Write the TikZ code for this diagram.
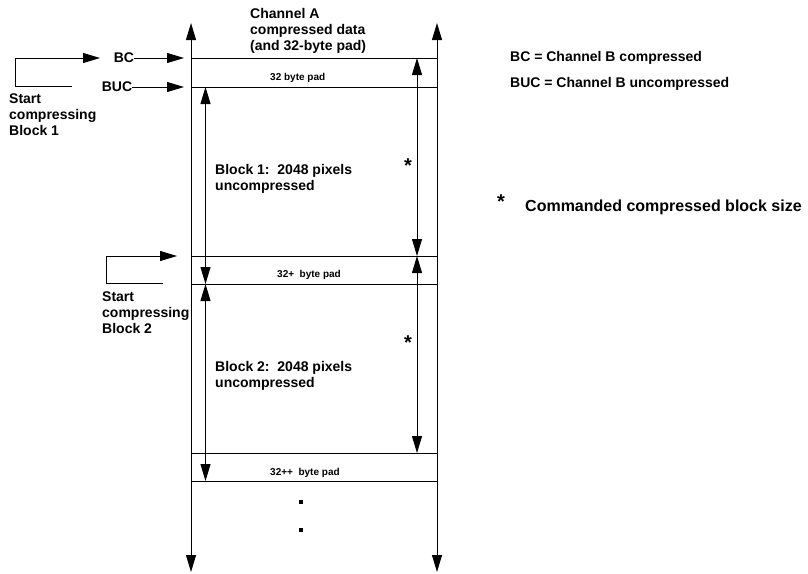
\documentclass[tikz,border=0pt]{standalone}
\usepackage{fontspec}
\setmainfont{Liberation Sans}
\usetikzlibrary{positioning,arrows.meta}
\tikzset {
    style text/.style={
        font=\fontsize{14}{16}\selectfont\bfseries,
        inner sep=0pt,
        align=left,
    },
    style pad/.style={
        font=\fontsize{10}{12}\selectfont\bfseries,
        inner sep=0pt,
        anchor=base west,
    },
    style star/.style={
        font=\fontsize{20}{20}\selectfont\bfseries,
        inner sep=0pt,
    },
    style dot/.style={
        fill=black,
        rectangle, % Set the shape as a rectangle
        inner sep=0pt,
        minimum size=3.5pt,
    },
    style line/.style={line width=0.9pt},
    style arrow/.style={line width=0.9pt, -{Triangle[length=17pt,width=10pt]}},
    style both/.style={line width=0.9pt, {Triangle[length=17pt,width=10pt]}-{Triangle[length=17pt,width=10pt]}},
}
\begin{document}
\begin{tikzpicture}
[x=1pt, y=-1pt]
\useasboundingbox (0,0) rectangle (808,573);

\coordinate (ltop) at (191,23);
\coordinate (lbot) at (191,572);
\coordinate (rtop) at (437,23);
\coordinate (rbot) at (437,572);
\foreach \name/\y in {a/58, b/87, c/256, d/284, e/453, f/481} {
    \coordinate (\name L) at (191,\y);
    \coordinate (\name R) at (437,\y);
    \coordinate (\name-innerL) at (205.5,\y);
    \coordinate (\name-innerR) at (417,\y);
}

\node[style text, anchor=base west] at (250,50) (chanA) {Channel A\\compressed data\\(and 32-byte pad)};
\node[style pad] at (270,80) (pad1) {32 byte pad};
\node[style pad] at (277,277) (pad2) {32+\ \ byte pad};
\node[style pad] at (270,475) (pad3) {32++\ \ byte pad};
\node[style text, anchor=base west] at (215,190) (block1) {Block 1:\ \ 2048 pixels\\uncompressed};
\node[style text, anchor=base west] at (215,387) (block2) {Block 2:\ \ 2048 pixels\\uncompressed};
\node[style star] at (408,166) (star1) {*};
\node[style star] at (408,343) (star2) {*};
\node[style dot] at (301,502) (dot1) {};
\node[style dot] at (301,530) (dot2) {};

\node[style text] at (124,58) (bc) {BC};
\node[style text] at (117,87) (buc) {BUC};
\node[style text, anchor=base west] at (9,135) (start1) {Start\\compressing\\Block 1};
\node[style text, anchor=base west] at (102,333) (start2) {Start\\compressing\\Block 2};
\coordinate (bcTip) at (184,58);
\coordinate (bucTip) at (184,87);
\coordinate (s1a) at (72,86);
\coordinate (s1b) at (15,86);
\coordinate (s1c) at (15,58);
\coordinate (s1d) at (100,58);
\coordinate (s2a) at (163,283);
\coordinate (s2b) at (106,283);
\coordinate (s2c) at (106,256);
\coordinate (s2d) at (177,256);

\node[style text, anchor=base west] at (510,61) (keyBC) {BC = Channel B compressed};
\node[style text, anchor=base west] at (510,87) (keyBUC) {BUC = Channel B uncompressed};
\node[style star] at (501,202) (keyStar) {*};
\node[style text, font=\fontsize{16}{18}\selectfont\bfseries, anchor=base west] at (525,211) (keySize) {Commanded compressed block size};

\draw[style both] (lbot) -- (ltop);
\draw[style both] (rbot) -- (rtop);
\foreach \name in {a,b,c,d,e,f} {
    \draw[style line] (\name L) -- (\name R);
}
\draw[style both] (b-innerL) -- (d-innerL);
\draw[style both] (d-innerL) -- (f-innerL);
\draw[style both] (a-innerR) -- (c-innerR);
\draw[style both] (c-innerR) -- (e-innerR);
\draw[style arrow] (bc.east) -- (bcTip);
\draw[style arrow] (buc.east) -- (bucTip);
\draw[style arrow] (s1a) -- (s1b) -- (s1c) -- (s1d);
\draw[style arrow] (s2a) -- (s2b) -- (s2c) -- (s2d);
\end{tikzpicture}
\end{document}
